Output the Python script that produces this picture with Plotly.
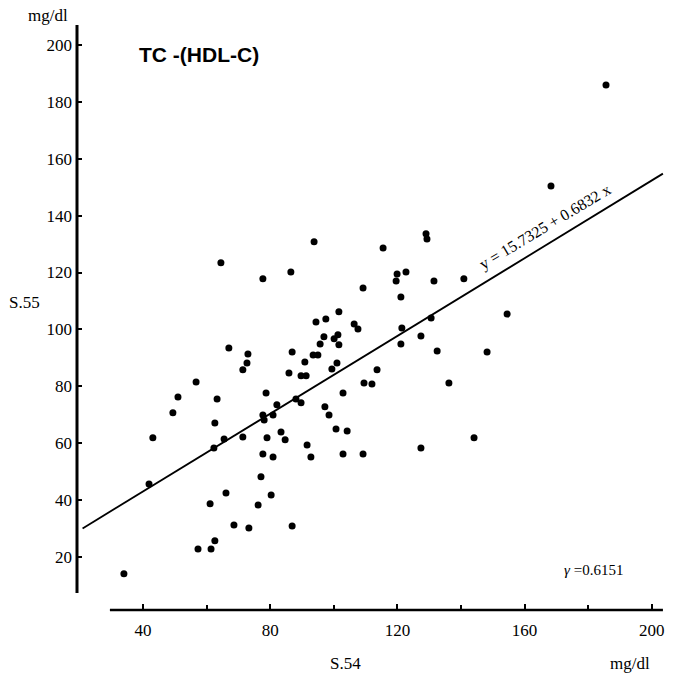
import plotly.graph_objects as go

# S.54 (x) vs S.55 (y), TC-(HDL-C) in mg/dl
s54 = [34.0, 41.9, 43.1, 49.4, 51.0, 56.7, 57.3, 61.4, 62.6, 61.1,
       62.3, 62.6, 63.3, 64.5, 65.5, 66.1, 67.0, 68.6, 71.4, 71.4,
       72.7, 73.0, 73.3, 76.2, 77.1, 77.7, 77.7, 78.1, 78.7, 79.0,
       77.7, 80.3, 80.9, 80.9, 82.1, 83.4, 84.7, 85.9, 86.5, 86.9,
       86.9, 88.1, 89.7, 89.7, 91.3, 90.9, 91.6, 92.8, 93.5, 95.0,
       93.8, 94.4, 95.7, 96.9, 97.5, 97.2, 98.5, 99.4, 100.1, 101.0,
       101.3, 101.6, 101.6, 100.7, 104.2, 102.9, 102.9, 106.4, 107.6, 109.2,
       109.2, 109.5, 112.0, 113.6, 115.5, 119.6, 119.9, 122.7, 121.1, 121.4,
       121.1, 127.4, 127.4, 129.0, 129.3, 130.6, 131.5, 132.5, 136.2, 140.9,
       144.1, 148.2, 154.5, 168.3, 185.6]
s55 = [14.1, 45.7, 61.9, 70.7, 76.3, 81.5, 22.8, 22.8, 25.7, 38.7,
       58.3, 67.1, 75.6, 123.4, 61.5, 42.5, 93.5, 31.3, 85.8, 62.2,
       88.2, 91.4, 30.2, 38.3, 48.2, 117.8, 69.9, 68.2, 77.7, 61.9,
       56.2, 41.8, 69.9, 55.2, 73.5, 64.0, 61.2, 84.7, 120.2, 92.1,
       30.9, 75.6, 74.2, 83.7, 83.7, 88.6, 59.4, 55.2, 91.0, 91.0,
       130.8, 102.6, 94.9, 97.4, 103.7, 72.8, 69.9, 86.1, 96.7, 88.2,
       98.1, 106.2, 94.6, 65.0, 64.3, 77.7, 56.2, 101.9, 100.2, 114.6,
       56.2, 81.2, 80.8, 85.8, 128.6, 117.0, 119.5, 120.2, 111.4, 100.5,
       94.9, 97.7, 58.3, 133.6, 131.8, 104.0, 117.0, 92.4, 81.2, 117.8,
       61.9, 92.1, 105.4, 150.4, 185.9]

# regression y = a + b x
reg_a = 15.7325
reg_b = 0.6832
reg_x = [21, 203.5]
reg_y = [reg_a + reg_b * v for v in reg_x]

x_ticks = [40, 80, 120, 160, 200]
x_minor = [60, 100, 140, 180]
y_ticks = [20, 40, 60, 80, 100, 120, 140, 160, 180, 200]

serif = "Liberation Serif"
tfont = dict(family=serif, size=17, color="black")

fig = go.Figure()
fig.add_trace(go.Scatter(x=reg_x, y=reg_y, mode="lines",
                         line=dict(color="black", width=1.8), hoverinfo="skip"))
fig.add_trace(go.Scatter(x=s54, y=s55, mode="markers",
                         marker=dict(color="black", size=7)))

fig.update_layout(
    width=673, height=674,
    paper_bgcolor="white", plot_bgcolor="white",
    showlegend=False,
    margin=dict(l=77, r=8, t=25, b=64),
    font=tfont,
    xaxis=dict(range=[19.25, 204.15], showgrid=False, zeroline=False, showline=False,
               tickvals=x_ticks, ticks="inside", ticklen=6, tickwidth=2, tickcolor="black",
               minor=dict(tickvals=x_minor, ticks="inside", ticklen=5, tickwidth=2, tickcolor="black"),
               ticklabelstandoff=8),
    yaxis=dict(range=[1.4, 207.0], showgrid=False, zeroline=False, showline=False,
               tickvals=y_ticks, ticks="inside", ticklen=5, tickwidth=2, tickcolor="black",
               ticklabelstandoff=4),
)
fig.update_xaxes(tickfont_family=serif, tickfont_size=17, tickfont_color="black")
fig.update_yaxes(tickfont_family=serif, tickfont_size=17, tickfont_color="black")

# offset axis lines as in the original figure
fig.add_shape(type="line", xref="paper", yref="y", x0=0, x1=0, y0=7.4, y1=207,
              line=dict(color="black", width=3))
fig.add_shape(type="line", xref="x", yref="paper", x0=29.6, x1=203.5, y0=0, y1=0,
              line=dict(color="black", width=2.5))

ann = dict(xref="paper", yref="paper", showarrow=False, xanchor="center", yanchor="middle")
fig.add_annotation(text="mg/dl", x=-0.049, y=1.017, font=tfont, **ann)
fig.add_annotation(text="S.55", x=-0.090, y=0.525, font=tfont, **ann)
fig.add_annotation(text="S.54", x=0.457, y=-0.091, font=tfont, **ann)
fig.add_annotation(text="mg/dl", x=0.940, y=-0.091, font=tfont, **ann)
fig.add_annotation(text="y = 15.7325 + 0.6832 x", x=0.796, y=0.655, textangle=-31,
                   font=dict(family=serif, size=16, color="black"), **ann)
fig.add_annotation(text="<i>γ</i> =0.6151", x=0.879, y=0.068,
                   font=dict(family=serif, size=15, color="black"), **ann)
fig.add_annotation(text="<b>TC -(HDL-C)</b>", x=0.102, y=0.949, xref="paper", yref="paper",
                   showarrow=False, xanchor="left", yanchor="middle",
                   font=dict(family="Liberation Sans", size=21, color="black"))

fig.write_html("out.html", config={"displayModeBar": False},
               post_script="document.body.style.margin='0';document.body.style.overflow='hidden';")
